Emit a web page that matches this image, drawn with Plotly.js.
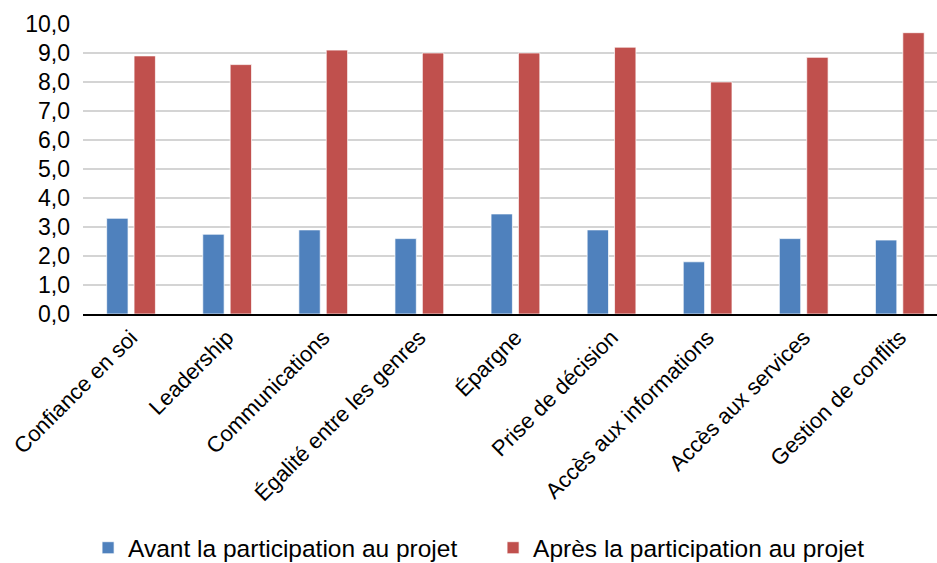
<!DOCTYPE html>
<html>
<head>
<meta charset="utf-8">
<script src="https://cdn.plot.ly/plotly-3.0.1.min.js"></script>
<style>html,body{margin:0;padding:0;background:#fff;}#chart{width:937px;height:563px;}</style>
</head>
<body>
<div id="chart"></div>
<script>
const categories = ["Confiance en soi", "Leadership", "Communications", "Égalité entre les genres", "Épargne", "Prise de décision", "Accès aux informations", "Accès aux services", "Gestion de conflits"];
const avantValues = [3.3, 2.75, 2.9, 2.6, 3.45, 2.9, 1.8, 2.6, 2.55];
const apresValues = [8.9, 8.6, 9.1, 9.0, 9.0, 9.2, 8.0, 8.85, 9.7];
const seriesNames = ["Avant la participation au projet", "Après la participation au projet"];
const yTicks = [0, 1, 2, 3, 4, 5, 6, 7, 8, 9, 10];

const font = "Liberation Sans, Arial, sans-serif";
const traces = [
  {type: "bar", x: categories, y: avantValues, name: seriesNames[0],
   marker: {color: "#4F81BD", line: {color: "rgba(255,255,255,0.7)", width: 1}}},
  {type: "bar", x: categories, y: apresValues, name: seriesNames[1],
   marker: {color: "#C0504D", line: {color: "rgba(255,255,255,0.7)", width: 1}}}
];
const layout = {
  width: 937, height: 563,
  margin: {l: 83, r: 0, t: 24, b: 249, autoexpand: false},
  paper_bgcolor: "#fff", plot_bgcolor: "#fff",
  separators: ", ",
  barmode: "group", bargap: 0.43, bargroupgap: 0.22,
  font: {family: font, color: "#000", size: 22},
  xaxis: {
    type: "category", range: [-0.5, 8.387], tickangle: -45,
    showline: true, linecolor: "#000", linewidth: 2, ticks: "",
    showgrid: false, automargin: false,
    tickfont: {size: 22, family: font, color: "#000"}
  },
  yaxis: {
    range: [0, 10], tickvals: yTicks, tickformat: ".1f",
    showgrid: true, gridcolor: "#d4d4d4", gridwidth: 1.5,
    zeroline: false, showline: false, ticks: "", automargin: false,
    ticklabelstandoff: 12,
    tickfont: {size: 23, family: font, color: "#000"}
  },
  showlegend: true,
  legend: {
    orientation: "h", xref: "container", yref: "container",
    x: 0.094, xanchor: "left", y: 0.027, yanchor: "middle",
    entrywidth: 360, entrywidthmode: "pixels",
    font: {size: 24.5, family: font, color: "#000"},
    traceorder: "normal"
  }
};
Plotly.newPlot("chart", traces, layout, {displayModeBar: false, staticPlot: true});
</script>
</body>
</html>
